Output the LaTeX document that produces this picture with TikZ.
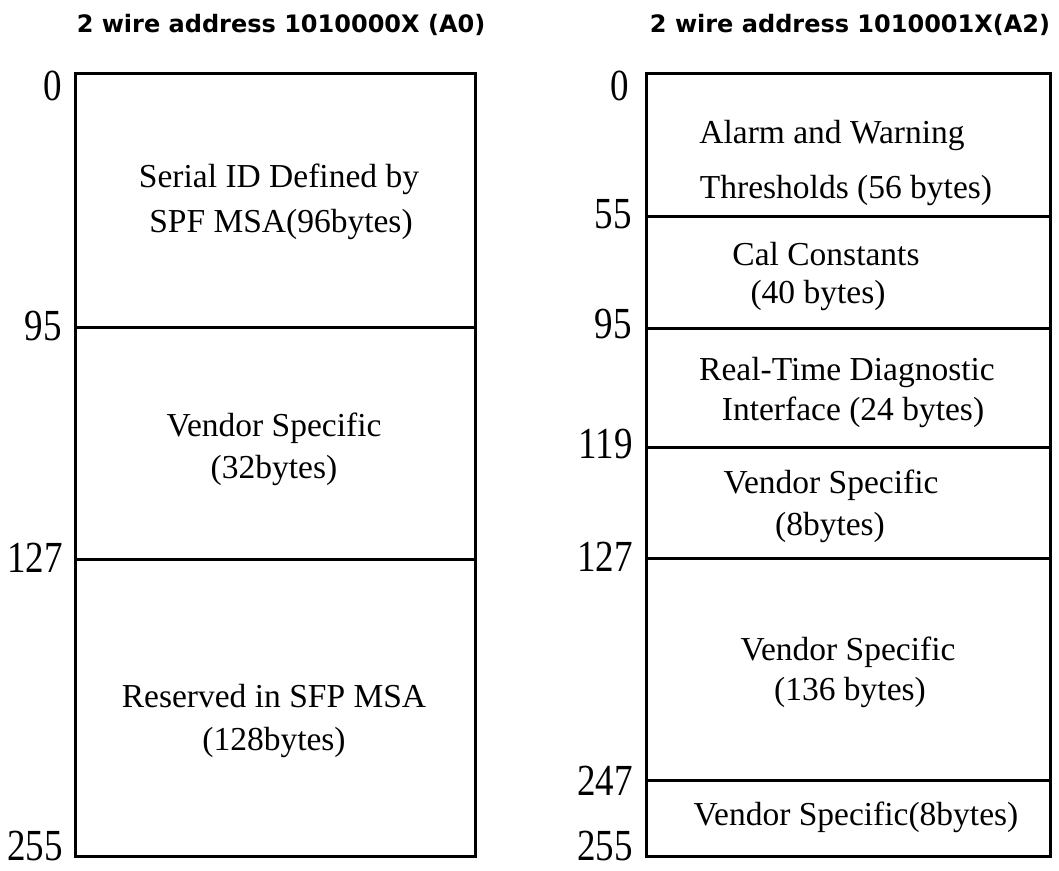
\documentclass[tikz,border=0pt]{standalone}
\usepackage{graphicx}
\usepackage{fontspec}
\setmainfont{Liberation Serif}
\newfontfamily\hdrfont{DejaVu Sans}
\newcommand{\tallnum}[1]{\scalebox{1}[1.2]{#1}}
\begin{document}
\begin{tikzpicture}[x=1pt,y=-1pt,
  box/.style={line width=3pt,line join=miter},
  sep/.style={line width=3pt},
  cell/.style={anchor=base,inner sep=0pt,font=\fontsize{33.5}{40}\selectfont},
  addr/.style={anchor=base east,inner sep=0pt,font=\fontsize{37}{44}\selectfont},
  hdr/.style={anchor=base,inner sep=0pt,font=\hdrfont\bfseries\fontsize{24}{28}\selectfont}]
\useasboundingbox (0,0) rectangle (1059,870);

% ---------- left map (A0) ----------
\node[hdr] (hA) at (281,32) {2 wire address 1010000X (A0)};
\draw[box] (75,73) rectangle (475,856);
\draw[sep] (75,327) -- (475,327);
\draw[sep] (75,559) -- (475,559);

\node[cell] (l1a) at (279,187) {Serial ID Defined by};
\node[cell] (l1b) at (281,232) {SPF MSA(96bytes)};
\node[cell] (l2a) at (274,436) {Vendor Specific};
\node[cell] (l2b) at (274,478) {(32bytes)};
\node[cell] (l3a) at (274,707) {Reserved in SFP MSA};
\node[cell] (l3b) at (274,750) {(128bytes)};

\node[addr] (la0)   at (62,100) {\tallnum{0}};
\node[addr] (la95)  at (62,340) {\tallnum{95}};
\node[addr] (la127) at (63,572) {\tallnum{127}};
\node[addr] (la255) at (63,860) {\tallnum{\smash{255}}};

% ---------- right map (A2) ----------
\node[hdr] (hB) at (850,32) {2 wire address 1010001X(A2)};
\draw[box] (646,73) rectangle (1050,856);
\draw[sep] (646,216) -- (1050,216);
\draw[sep] (646,328) -- (1050,328);
\draw[sep] (646,447) -- (1050,447);
\draw[sep] (646,558) -- (1050,558);
\draw[sep] (646,780) -- (1050,780);

\node[cell] (r1a) at (832,143) {Alarm and Warning};
\node[cell] (r1b) at (846,198) {Thresholds (56 bytes)};
\node[cell] (r2a) at (826,265) {Cal Constants};
\node[cell] (r2b) at (818,303) {(40 bytes)};
\node[cell] (r3a) at (847,380) {Real-Time Diagnostic};
\node[cell] (r3b) at (853,420) {Interface (24 bytes)};
\node[cell] (r4a) at (831,493) {Vendor Specific};
\node[cell] (r4b) at (830,535) {(8bytes)};
\node[cell] (r5a) at (848,660) {Vendor Specific};
\node[cell] (r5b) at (850,700) {(136 bytes)};
\node[cell] (r6a) at (856,825) {Vendor Specific(8bytes)};

\node[addr] (ra0)   at (629,100) {\tallnum{0}};
\node[addr] (ra55)  at (632,228) {\tallnum{55}};
\node[addr] (ra95)  at (632,338) {\tallnum{95}};
\node[addr] (ra119) at (633,458) {\tallnum{119}};
\node[addr] (ra127) at (633,571) {\tallnum{127}};
\node[addr] (ra247) at (633,795) {\tallnum{247}};
\node[addr] (ra255) at (633,860) {\tallnum{\smash{255}}};
\end{tikzpicture}
\end{document}
